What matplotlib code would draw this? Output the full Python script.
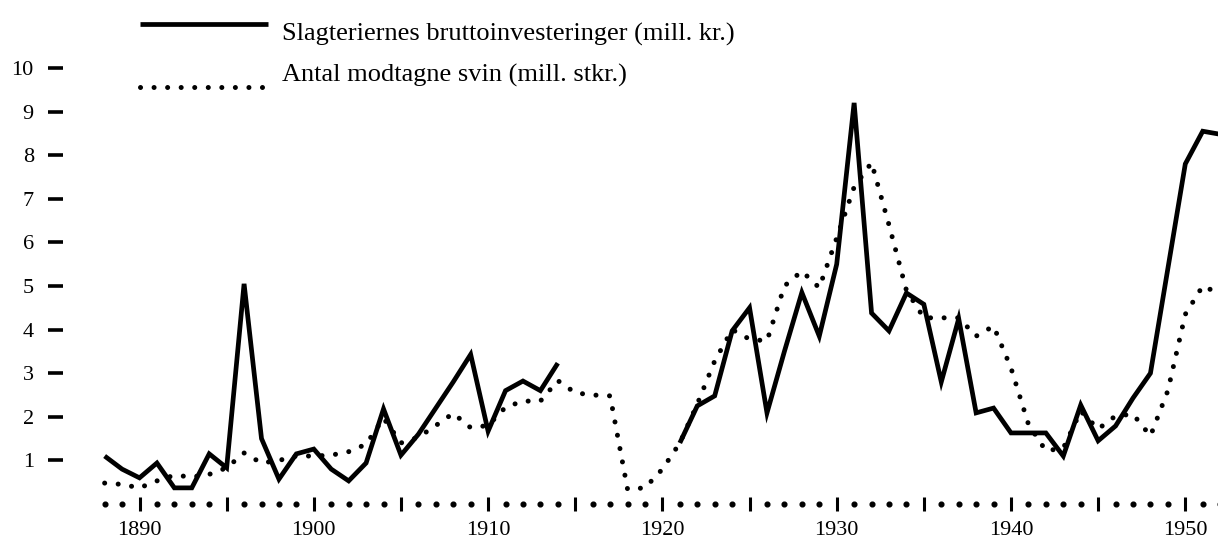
import matplotlib
matplotlib.use("Agg")
import matplotlib.pyplot as plt
from matplotlib.lines import Line2D
import numpy as np

plt.rcParams['font.family'] = ['Liberation Serif', 'DejaVu Serif']

# slagteriernes bruttoinvesteringer (mill. kr.), gap 1915-1920
inv_years1 = list(range(1888, 1915))
inv_vals1 = [1.10, 0.80, 0.60, 0.94, 0.37, 0.37, 1.15, 0.83, 5.05, 1.50,
             0.57, 1.15, 1.26, 0.80, 0.53, 0.94, 2.18, 1.12, 1.60, 2.20,
             2.80, 3.43, 1.67, 2.60, 2.82, 2.60, 3.23]
inv_years2 = list(range(1921, 1953))
inv_vals2 = [1.40, 2.25, 2.48, 3.97, 4.50, 2.09, 3.50, 4.85, 3.85, 5.50,
             9.20, 4.38, 3.97, 4.84, 4.58, 2.80, 4.25, 2.09, 2.20, 1.63,
             1.63, 1.63, 1.10, 2.27, 1.45, 1.79, 2.43, 3.00, 5.40, 7.80,
             8.55, 8.48]

# antal modtagne svin (mill. stk.)
svin_years = list(range(1888, 1953))
svin_vals = [0.48, 0.45, 0.37, 0.53, 0.66, 0.62, 0.68, 0.83, 1.17, 0.94,
             1.00, 1.10, 1.10, 1.12, 1.20, 1.37, 1.97, 1.40, 1.53, 1.80,
             2.08, 1.75, 1.80, 2.22, 2.36, 2.36, 2.83, 2.55, 2.50, 2.48,
             0.34, 0.37, 0.80, 1.40, 2.29, 3.28, 4.00, 3.78, 3.74, 5.00,
             5.34, 4.96, 6.10, 7.27, 7.83, 6.40, 4.90, 4.27, 4.27, 4.27,
             3.85, 4.08, 3.12, 1.83, 1.22, 1.28, 2.13, 1.72, 2.02, 2.06,
             1.56, 2.60, 4.35, 5.00, 4.82]

label_inv = 'Slagteriernes bruttoinvesteringer (mill. kr.)'
label_svin = 'Antal modtagne svin (mill. stkr.)'

W, H = 1218, 541
fig = plt.figure(figsize=(W / 100, H / 100), dpi=100)
ax = fig.add_axes([63 / W, (H - 504) / H, (W - 63) / W, 504 / H])

solid_kw = dict(color='black', lw=3.4, solid_joinstyle='miter', solid_capstyle='butt')
dot_kw = dict(color='black', lw=3.6, dashes=(0.01, 2.7), dash_capstyle='round')

ax.plot(svin_years, svin_vals, **dot_kw)
ax.plot(inv_years1, inv_vals1, **solid_kw)
ax.plot(inv_years2, inv_vals2, **solid_kw)

# dotted x axis: a dot for every year, a bar every 5 years
dot_years = [y for y in range(1888, 1953) if y % 5 != 0]
ax.plot(dot_years, np.zeros(len(dot_years)), 'o', color='black', ms=3.4, clip_on=False)

ax.set_xlim(1890 + (63 - 139.5) / 17.43, 1890 + (1218 - 139.5) / 17.43)
ax.set_ylim(0, 504 / 43.6)

for s in ax.spines.values():
    s.set_visible(False)

ax.set_xticks(range(1890, 1951, 10))
ax.set_xticks(range(1895, 1951, 10), minor=True)
ax.tick_params(axis='x', which='both', direction='inout', length=10, width=2.2,
               labelsize=16, pad=7)
ax.set_yticks(range(1, 11))
ax.tick_params(axis='y', direction='out', length=11, width=2.6, labelsize=16, pad=10)

# legend drawn by hand like in the original
fig.add_artist(Line2D([140 / W, 268 / W], [1 - 24 / H, 1 - 24 / H], **solid_kw))
fig.add_artist(Line2D([140 / W, 268 / W], [1 - 87 / H, 1 - 87 / H], **dot_kw))
fig.text(282 / W, 1 - 34 / H, label_inv, fontsize=19, va='center', ha='left')
fig.text(282 / W, 1 - 75 / H, label_svin, fontsize=19, va='center', ha='left')

fig.savefig('out.png', dpi=100)
